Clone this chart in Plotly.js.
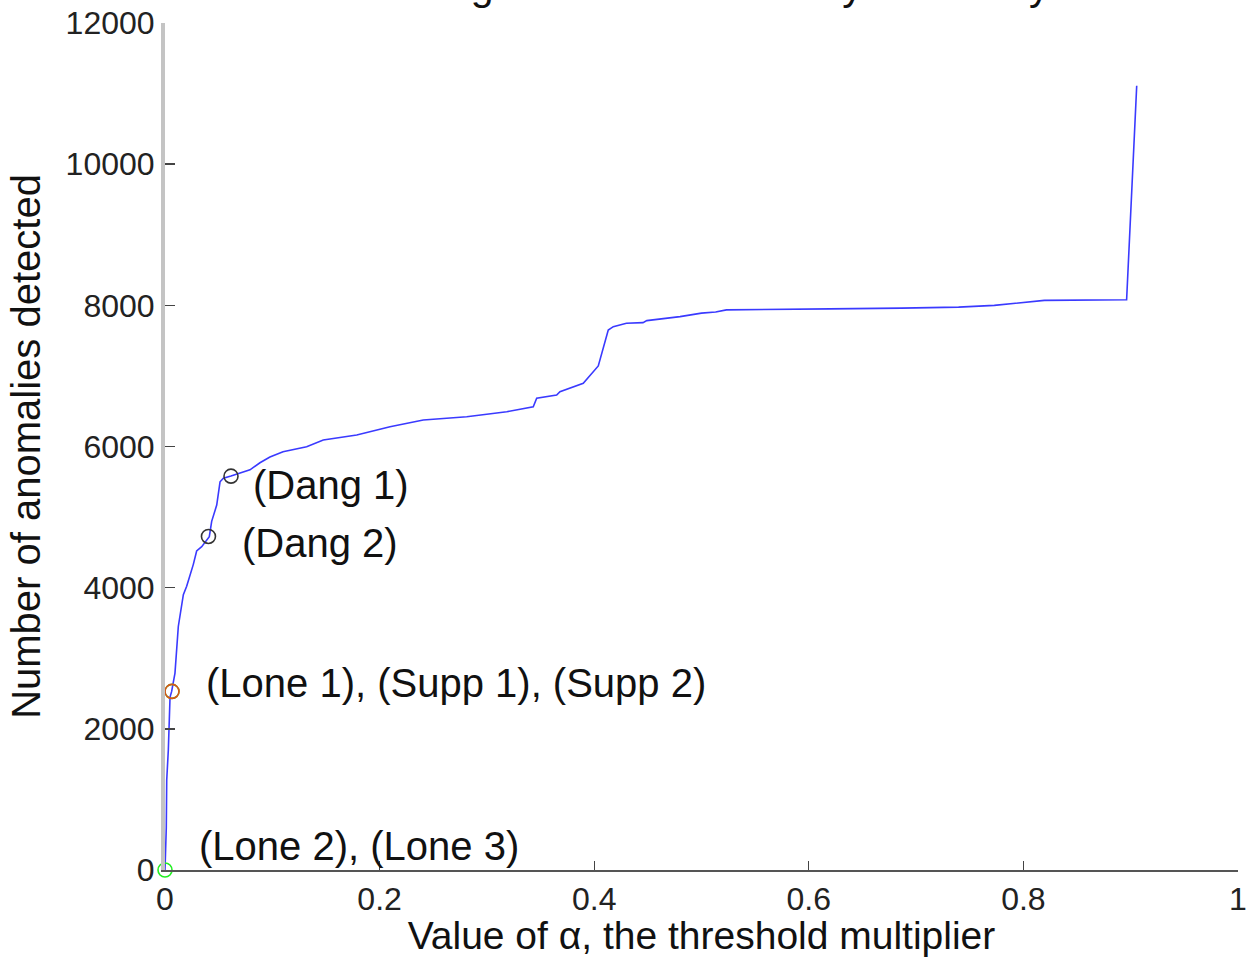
<!DOCTYPE html>
<html>
<head>
<meta charset="utf-8">
<script src="https://cdn.plot.ly/plotly-3.0.1.min.js"></script>
<style>
  html, body { margin: 0; padding: 0; background: #fff; }
  #chart { width: 1248px; height: 957px; }
</style>
</head>
<body>
<div id="chart"></div>
<script>
// Curve: number of anomalies detected vs threshold multiplier alpha
const alpha = [0, 0.0012, 0.0016, 0.0031, 0.0047, 0.0062, 0.0093, 0.0124, 0.0171, 0.0202, 0.0264, 0.0295, 0.0342, 0.0413, 0.0435, 0.0482, 0.0513, 0.0544, 0.0615, 0.0792, 0.0885, 0.0978, 0.110, 0.132, 0.1475, 0.1787, 0.2097, 0.2407, 0.2812, 0.3185, 0.3432, 0.3464, 0.3650, 0.3681, 0.3898, 0.3990, 0.4038, 0.4131, 0.4178, 0.430, 0.4455, 0.449, 0.480, 0.500, 0.5132, 0.5232, 0.5865, 0.6197, 0.6863, 0.7396, 0.7729, 0.8195, 0.8962, 0.9056];
const anomalies = [0, 600, 1275, 1700, 2450, 2530, 2790, 3450, 3900, 4020, 4330, 4520, 4580, 4722, 4940, 5170, 5500, 5550, 5582, 5670, 5770, 5850, 5927, 5997, 6092, 6163, 6281, 6376, 6422, 6493, 6564, 6683, 6730, 6777, 6896, 7050, 7141, 7651, 7698, 7746, 7755, 7783, 7840, 7890, 7905, 7935, 7940, 7950, 7960, 7975, 8000, 8070, 8080, 11110];

// Marked operating points
const markAlpha = [0.0615, 0.0405, 0.0065, 0.0065, 0];
const markCount = [5580, 4725, 2530, 2530, 0];
const markColor = ['#333333', '#333333', '#33dd33', '#d95319', '#22ee22'];

// Labels for the marked points
const labelText = ['(Dang 1)', '(Dang 2)', '(Lone 1), (Supp 1), (Supp 2)', '(Lone 2), (Lone 3)'];
const labelAlpha = [0.0805, 0.0700, 0.0365, 0.0300];
const labelCount = [5455, 4633, 2650, 340];

// Axis ticks
const xTicks = [0, 0.2, 0.4, 0.6, 0.8, 1];
const xTickText = ['0', '0.2', '0.4', '0.6', '0.8', '1'];
const yTicks = [0, 2000, 4000, 6000, 8000, 10000, 12000];
const yTickText = ['0', '2000', '4000', '6000', '8000', '10000', '12000'];

const FONT = 'Liberation Sans, Arial, Helvetica, sans-serif';

const traces = [
  {
    x: alpha, y: anomalies, type: 'scatter', mode: 'lines',
    line: { color: '#3a3aff', width: 1.6 },
    hoverinfo: 'skip'
  },
  {
    x: markAlpha, y: markCount, type: 'scatter', mode: 'markers',
    marker: { symbol: 'circle-open', size: 14, color: markColor, line: { width: 1.6, color: markColor } },
    cliponaxis: false,
    hoverinfo: 'skip'
  }
];

const annotations = labelText.map((t, i) => ({
  x: labelAlpha[i], y: labelCount[i], xref: 'x', yref: 'y',
  text: t, showarrow: false, xanchor: 'left', yanchor: 'middle',
  font: { family: FONT, size: 40, color: '#111' }
}));

const layout = {
  width: 1248, height: 957,
  margin: { l: 165, r: 10, t: 23, b: 87 },
  paper_bgcolor: '#fff', plot_bgcolor: '#fff',
  showlegend: false,
  title: {
    text: 'Detecting the total of anomaly counts by time',
    font: { family: FONT, size: 41, color: '#111' },
    xref: 'paper', x: 0.526, xanchor: 'center',
    yref: 'container', y: 1, yanchor: 'bottom'
  },
  xaxis: {
    range: [0, 1], tickvals: xTicks, ticktext: xTickText,
    ticks: 'inside', ticklen: 9, tickwidth: 1.4, tickcolor: '#444',
    showline: true, linecolor: '#555', linewidth: 1.6,
    showgrid: false, zeroline: false,
    tickfont: { family: FONT, size: 32, color: '#222' },
    title: { text: 'Value of α, the threshold multiplier', font: { family: FONT, size: 39, color: '#111' }, standoff: 3 }
  },
  yaxis: {
    range: [0, 12000], tickvals: yTicks, ticktext: yTickText,
    ticks: 'inside', ticklen: 10, tickwidth: 1.4, tickcolor: '#444',
    showline: true, linecolor: '#c4c4c4', linewidth: 4,
    showgrid: false, zeroline: false,
    tickfont: { family: FONT, size: 32, color: '#222' },
    title: { text: 'Number of anomalies detected', font: { family: FONT, size: 40, color: '#111' }, standoff: 14 }
  },
  annotations: annotations
};

Plotly.newPlot('chart', traces, layout, { displayModeBar: false, staticPlot: true });
</script>
</body>
</html>
